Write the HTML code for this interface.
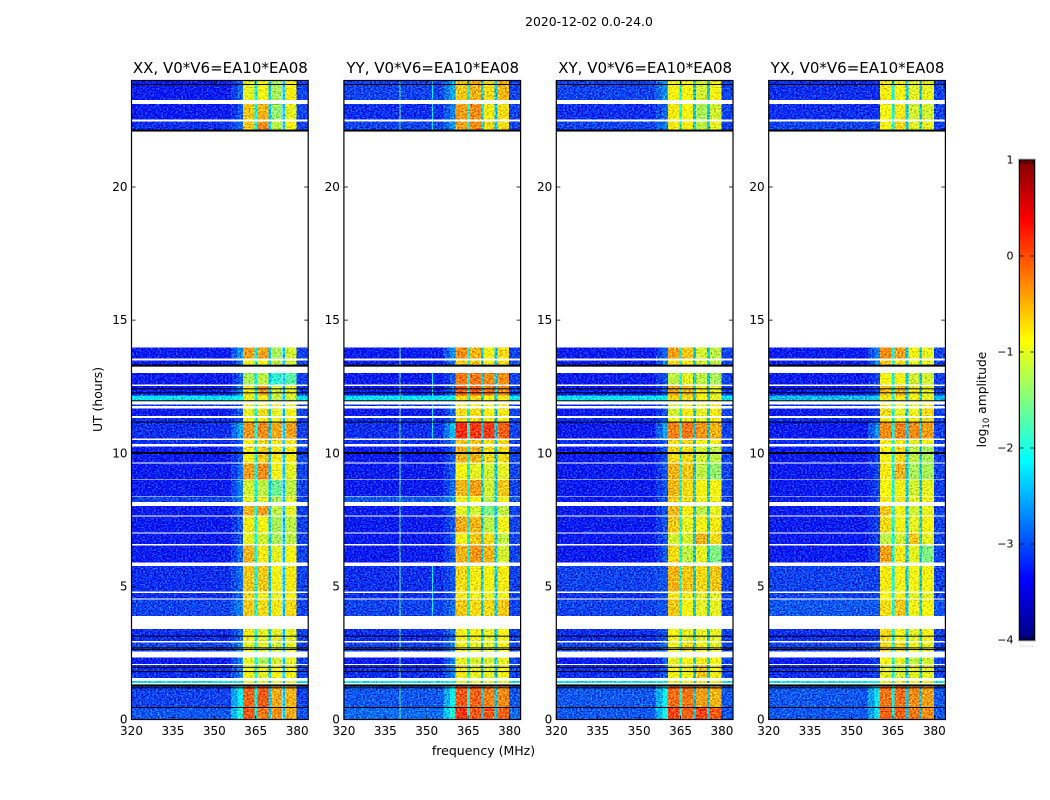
<!DOCTYPE html>
<html lang="en">
<head>
<meta charset="utf-8">
<title>2020-12-02 0.0-24.0</title>
<style>
html,body{margin:0;padding:0;background:#fff;width:1050px;height:800px;overflow:hidden}
svg{display:block}
text{font-family:"DejaVu Sans","Liberation Sans",sans-serif;fill:#000}
</style>
</head>
<body>
<svg id="chart" xmlns="http://www.w3.org/2000/svg" width="1050" height="800" viewBox="0 0 1050 800">
  <defs>
    <filter id="speckle" filterUnits="userSpaceOnUse" x="120" y="70" width="840" height="660" color-interpolation-filters="sRGB">
      <feTurbulence type="fractalNoise" baseFrequency="0.55 0.7" numOctaves="1" seed="4" result="raw"/>
      <feColorMatrix in="raw" type="matrix" values="0.6 0 0 0 0.2  1 0 0 0 0  1 0 0 0 0  0 0 0 0 1" result="grey"/>
      <feComposite in="SourceGraphic" in2="grey" operator="arithmetic" k1="0" k2="1" k3="1.3" k4="-0.65" result="mixed"/>
      <feComposite in="mixed" in2="SourceAlpha" operator="in"/>
    </filter>
    <linearGradient id="cbar-gradient" x1="0" y1="1" x2="0" y2="0"></linearGradient>
  </defs>
  <text x="589" y="26" font-size="12.4" text-anchor="middle">2020-12-02 0.0-24.0</text>
  <text x="0" y="0" font-size="12.4" text-anchor="middle" transform="translate(102 399.5) rotate(-90)">UT (hours)</text>
  <text x="483.5" y="755" font-size="12.5" text-anchor="middle">frequency (MHz)</text>
  <g id="panels"></g>
  <g id="colorbar"></g>
</svg>
<script>
// Panel titles
const panelTitles = ["XX, V0*V6=EA10*EA08", "YY, V0*V6=EA10*EA08", "XY, V0*V6=EA10*EA08", "YX, V0*V6=EA10*EA08"];
// Axis ticks
const freqTicks = [320, 335, 350, 365, 380];
const utTicks = [0, 5, 10, 15, 20];
const cbarTicks = [1, 0, -1, -2, -3, -4];
// Observed time blocks (UT hours)
const rowStart = [23.26,22.53,22.14,13.56,13.32,12.59,12.17,11.99,11.78,11.39,11.17,10.56,10.34,9.65,9.02,8.40,8.17,7.66,7.02,6.59,5.90,4.80,4.54,3.88,2.94,2.56,2.09,1.56,1.38,0.46,0];
const rowEnd   = [24,23.11,22.46,13.98,13.49,13.01,12.53,12.17,11.84,11.69,11.33,11.17,10.50,10.26,9.62,8.99,8.37,8.01,7.62,6.98,6.54,5.76,4.76,4.50,3.40,2.90,2.33,2.05,1.45,1.29,0.44];
// Flagged (black) time lines, UT hours
const thinFlags = [23.85,12.42,12.27,11.97,11.17,3.13,2.69,2.63,1.96,1.80,1.19,0.45];
const thickFlags = [22.12,13.29,10.01,1.28];
// Frequency bands (MHz): background, ramp-in, four passbands, upper edge
const bandEdges = [320,356,358.4,360.4,364.6,365.6,369.6,370.6,374.6,375.6,379.8,384];
const notchLevels = [-2.1,-2.4,-2.4];
const edgeLevel = -3.05;
const backgroundShift = -0.25;
// Log10 amplitude per time block: background, ramp, band A, band B, band C, band D
const xxLevels = [
[-3,-2.6,-1,-.9,-1.3,-.8],[-3,-2.7,-.6,-.5,-1.4,-1],[-2.9,-2.6,-.6,-.3,-1.2,-.9],[-3,-2.4,-.4,-.4,-1.3,-1.1],
[-3,-2.6,-.9,-.9,-1.2,-1.1],[-3,-2.7,-1.3,-1.2,-1.9,-1.7],[-3,-2.5,-.8,-.4,-1.1,-1],[-2,-1.9,-1,-.9,-1.2,-1.1],
[-2.9,-2.7,-1,-.9,-1,-.9],[-3,-2.7,-1,-.7,-1,-.9],[-2.9,-2.7,-.9,-.8,-1,-.9],[-2.9,-2.3,-.35,-.3,-.45,-.4],
[-2.9,-2.7,-.8,-.7,-.8,-.8],[-3,-2.7,-.8,-.6,-.8,-.8],[-3,-2.6,-.4,-.3,-.9,-1],[-3,-2.5,-1.1,-1.2,-1.6,-1.2],
[-2.8,-2.5,-1,-1,-1.3,-1],[-3,-2.7,-.5,-.4,-1.2,-1],[-3,-2.7,-.8,-.9,-1.3,-1.2],[-3,-2.7,-1,-1.1,-1.3,-1.2],
[-3,-2.6,-.5,-.8,-1,-.9],[-2.9,-2.6,-.6,-.6,-.9,-.8],[-2.9,-2.6,-.7,-.8,-1,-.9],[-2.8,-2.5,-.6,-.7,-.8,-.7],
[-2.9,-2.6,-.8,-1,-1,-1],[-2.8,-2.5,-1,-1,-1.1,-1],[-3,-2.5,-1,-1.3,-1.1,-1],[-2.9,-2.5,-.9,-1,-.9,-.9],
[-2,-1.9,-1,-1,-1,-1],[-2.8,-1.9,-.1,-.05,-.45,-.5],[-2.7,-1.7,-.05,-.2,-.35,-.45]];
const yyLevels = [
[-2.8,-2.3,-.6,-.5,-.7,-.5],[-2.9,-2.5,-.4,-.3,-.8,-.7],[-2.8,-2.4,-.4,-.3,-.7,-.7],[-3,-2.4,-.3,-.5,-.9,-.7],
[-3,-2.6,-.6,-.6,-.8,-.7],[-3,-2.7,-.2,-.2,-.3,-.3],[-3,-2.6,-.1,-.1,-.2,-.3],[-2,-1.9,-.7,-.7,-.9,-.8],
[-2.9,-2.6,-.8,-.8,-.9,-.8],[-3,-2.6,-.7,-.7,-.8,-.8],[-2.9,-2.6,-.7,-.7,-.8,-.8],[-2.9,-2.2,.15,.1,.1,-.1],
[-2.9,-2.5,-.6,-.6,-.7,-.7],[-3,-2.7,-.5,-.5,-.7,-.7],[-3,-2.7,-.9,-1,-1.1,-1],[-3,-2.6,-.5,-.4,-1.1,-.6],
[-2.7,-2.4,-.9,-.9,-1.2,-.9],[-3,-2.7,-1,-1.1,-1.5,-1.2],[-3,-2.7,-.45,-.5,-1.2,-.9],[-3,-2.7,-.9,-.6,-.7,-1.2],
[-3,-2.7,-.5,-.35,-.5,-1.1],[-2.9,-2.7,-.7,-.8,-.9,-.8],[-2.9,-2.7,-.8,-.9,-1,-.9],[-2.8,-2.6,-.6,-.7,-.7,-.6],
[-2.9,-2.6,-.9,-.9,-1,-.9],[-2.8,-2.5,-.9,-1,-1,-.9],[-3,-2.5,-1,-1.1,-1.1,-1],[-2.9,-2.5,-.8,-1,-1,-.9],
[-2,-1.9,-1,-1,-1,-1],[-2.7,-1.9,-.05,-.1,-.25,-.3],[-2.6,-1.7,.15,-.05,-.05,-.1]];
const xyLevels = [
[-2.8,-2.4,-.9,-.9,-1.1,-.9],[-2.9,-2.6,-.8,-.9,-1.3,-1.1],[-2.8,-2.5,-.8,-.8,-1.2,-1],[-3,-2.6,-.4,-.6,-1.1,-1.2],
[-3,-2.5,-.7,-.8,-1.1,-1.2],[-3,-2.7,-1.2,-1,-1.2,-1.3],[-3,-2.7,-.45,-.5,-.8,-1],[-2,-1.9,-.7,-.7,-.9,-1],
[-2.9,-2.7,-1.1,-.8,-1,-.8],[-3,-2.7,-1.1,-.8,-1,-.8],[-2.9,-2.7,-1,-.8,-1,-.8],[-3,-2.3,-.25,-.2,-.35,-.5],
[-2.9,-2.7,-.7,-.7,-.9,-.8],[-3,-2.7,-.7,-.7,-1.1,-1.2],[-3,-2.7,-.5,-.6,-1.2,-1.4],[-3,-2.7,-.5,-.7,-.9,-.9],
[-3,-2.7,-.6,-.7,-.9,-.9],[-3,-2.7,-.5,-.8,-1.2,-1],[-3,-2.7,-.6,-1,-.9,-.8],[-3,-2.7,-1.1,-1.1,-.5,-.7],
[-3,-2.7,-.7,-1.2,-1,-1.5],[-2.8,-2.7,-.5,-.6,-.7,-.6],[-2.9,-2.7,-.8,-.8,-1,-1],[-2.8,-2.7,-.6,-.9,-1,-1],
[-2.9,-2.7,-.9,-1,-1,-1],[-2.8,-2.6,-.9,-.7,-.9,-1],[-3,-2.7,-1,-.9,-.8,-.9],[-2.9,-2.7,-.9,-.9,-.6,-.9],
[-2,-1.9,-.8,-.8,-.8,-.8],[-2.7,-1.9,-.15,-.2,-.4,-.5],[-2.7,-1.8,.05,-.1,.05,-.05]];
const yxLevels = [
[-2.9,-2.9,-.8,-.9,-1,-1],[-2.9,-2.9,-.9,-.8,-1.1,-1.1],[-2.8,-2.8,-.9,-.7,-1,-1],[-3,-2.5,-.3,-.4,-.9,-1],
[-3,-2.5,-.6,-.7,-1,-1],[-3,-2.8,-.9,-.9,-1.1,-1.1],[-3,-2.8,-.6,-.5,-.8,-1],[-2.2,-2.1,-.8,-.8,-.9,-1],
[-2.9,-2.8,-.8,-1,-1,-.8],[-3,-2.8,-.7,-1,-.9,-.7],[-2.9,-2.8,-.8,-.9,-.9,-.7],[-3,-2.4,-.3,-.25,-.3,-.4],
[-2.9,-2.8,-.8,-.8,-1,-.9],[-3,-2.8,-.9,-.7,-1.2,-1.3],[-3,-2.8,-.8,-.5,-1.3,-1.3],[-3,-2.8,-.9,-.9,-1.1,-1],
[-3,-2.8,-.8,-.8,-1,-.9],[-3,-2.8,-.6,-.9,-1.1,-1],[-3,-2.8,-.7,-.9,-1,-.9],[-3,-2.8,-1.2,-1.1,-.6,-1],
[-3,-2.8,-.4,-.8,-1,-1.5],[-2.8,-2.8,-.8,-.9,-.9,-.9],[-2.8,-2.8,-.9,-.9,-1,-1],[-2.7,-2.7,-.7,-.6,-.9,-.9],
[-2.9,-2.8,-.7,-.9,-1,-.9],[-2.8,-2.7,-.7,-.7,-.9,-1],[-3,-2.8,-.9,-1,-1.2,-1.1],[-2.9,-2.8,-1,-1.1,-1,-1],
[-2,-1.9,-.8,-.8,-.8,-.8],[-2.7,-2,-.2,-.15,-.3,-.4],[-2.7,-2,-.1,-.1,-.2,-.3]];
// Narrow interference channels in YY: frequency (MHz), from UT, to UT, level
const yyRfiFreq = [340.1, 351.9, 351.9, 351.9];
const yyRfiFrom = [0, 22.14, 10.56, 3.88];
const yyRfiTo = [24, 24, 13.01, 5.76];
const yyRfiLevel = [-1.7, -2.2, -2.2, -2.2];

const NS = "http://www.w3.org/2000/svg";
const panelLevels = [xxLevels, yyLevels, xyLevels, yxLevels];
const panelKeys = ["xx", "yy", "xy", "yx"];
const plotW = 176.7;
const plotTop = 80.5;
const plotBottom = 719.5;
const panelLeft = i => 131.5 + i * 212.4;
const xScale = (i, f) => panelLeft(i) + (f - 320) / 64 * plotW;
const yScale = t => plotBottom - t / 24 * (plotBottom - plotTop);
const cbarLeft = 1019.5, cbarRight = 1034.5, cbarTop = 160, cbarBottom = 640;
const cbarScale = v => cbarBottom - (v + 4) / 5 * (cbarBottom - cbarTop);

function clip01(v) { return Math.max(0, Math.min(1, v)); }
function jet(v) {
  const t = clip01((v + 4) / 5);
  const r = clip01(1.5 - Math.abs(4 * t - 3));
  const g = clip01(1.5 - Math.abs(4 * t - 2));
  const b = clip01(1.5 - Math.abs(4 * t - 1));
  return "rgb(" + Math.round(r * 255) + "," + Math.round(g * 255) + "," + Math.round(b * 255) + ")";
}
function svgEl(tag, parent) {
  const el = document.createElementNS(NS, tag);
  parent.appendChild(el);
  return el;
}
function setAttrs(el, props) {
  for (const k in props) el.setAttribute(k, props[k]);
}
// Level of each frequency band in a row
function bandLevels(row) {
  const bg = row[0] + backgroundShift;
  const rampLevel = row[1] + backgroundShift;
  return [bg, (bg + rampLevel) / 2, rampLevel, row[2], notchLevels[0], row[3], notchLevels[1], row[4], notchLevels[2], row[5], Math.max(bg, edgeLevel)];
}

const panelsRoot = document.getElementById("panels");
panelLevels.forEach((levels, p) => {
  const key = panelKeys[p];
  const g = svgEl("g", panelsRoot);
  
  

  const cells = svgEl("g", g);
  
  
  cells.setAttribute("filter", "url(#speckle)");
  cells.setAttribute("shape-rendering", "crispEdges");

  levels.forEach((row, r) => {
    const vals = bandLevels(row);
    const y0 = yScale(rowEnd[r]);
    const y1 = yScale(rowStart[r]);
    vals.forEach((v, b) => {
      const x0 = xScale(p, bandEdges[b]);
      const x1 = xScale(p, bandEdges[b + 1]);
      const cell = svgEl("rect", cells);
      
      
      setAttrs(cell, { x: x0.toFixed(2), y: y0.toFixed(2), width: (x1 - x0).toFixed(2), height: (y1 - y0).toFixed(2), fill: jet(v) });
    });
    if (key === "yy") {
      yyRfiFreq.forEach((f, k) => {
        if (rowStart[r] >= yyRfiFrom[k] && rowEnd[r] <= yyRfiTo[k]) {
          const line = svgEl("rect", cells);
          
          
          setAttrs(line, { x: xScale(p, f).toFixed(2), y: y0.toFixed(2), width: 1, height: (y1 - y0).toFixed(2), fill: jet(yyRfiLevel[k]) });
        }
      });
    }
  });

  thinFlags.forEach(t => {
    const line = svgEl("rect", g);
    
    
    setAttrs(line, { x: panelLeft(p), y: (yScale(t) - 0.5).toFixed(2), width: plotW, height: 1, fill: "#000" });
  });
  thickFlags.forEach(t => {
    const line = svgEl("rect", g);
    
    
    setAttrs(line, { x: panelLeft(p), y: (yScale(t) - 1).toFixed(2), width: plotW, height: 2, fill: "#000" });
  });

  const frame = svgEl("rect", g);
  
  
  setAttrs(frame, { x: panelLeft(p), y: plotTop, width: plotW, height: plotBottom - plotTop, fill: "none", stroke: "#000", "stroke-width": 1.2 });

  freqTicks.forEach(f => {
    const x = xScale(p, f);
    [[plotBottom, plotBottom - 4], [plotTop, plotTop + 4]].forEach(pair => {
      const tick = svgEl("line", g);
      
      
      setAttrs(tick, { x1: x, x2: x, y1: pair[0], y2: pair[1], stroke: "#000", "stroke-width": 0.8 });
    });
    const label = svgEl("text", g);
    
    
    setAttrs(label, { x: x, y: 735, "font-size": 12, "text-anchor": "middle" });
    label.textContent = String(f);
  });
  utTicks.forEach(t => {
    const y = yScale(t);
    [[panelLeft(p), panelLeft(p) + 4], [panelLeft(p) + plotW, panelLeft(p) + plotW - 4]].forEach(pair => {
      const tick = svgEl("line", g);
      
      
      setAttrs(tick, { x1: pair[0], x2: pair[1], y1: y, y2: y, stroke: "#000", "stroke-width": 0.8 });
    });
    const label = svgEl("text", g);
    
    
    setAttrs(label, { x: panelLeft(p) - 4, y: y + 4, "font-size": 12, "text-anchor": "end" });
    label.textContent = String(t);
  });

  const title = svgEl("text", g);
  
  
  setAttrs(title, { x: panelLeft(p) + plotW / 2 + 0.5, y: 73, "font-size": 15, "text-anchor": "middle" });
  title.textContent = panelTitles[p];
});

// Colour bar
const grad = document.getElementById("cbar-gradient");
for (let i = 0; i <= 40; i++) {
  const stop = svgEl("stop", grad);
  stop.setAttribute("offset", i / 40);
  stop.setAttribute("stop-color", jet(-4 + i / 8));
}
const cbar = document.getElementById("colorbar");
const ramp = svgEl("rect", cbar);


setAttrs(ramp, { x: cbarLeft, y: cbarTop, width: cbarRight - cbarLeft, height: cbarBottom - cbarTop, fill: "url(#cbar-gradient)", stroke: "#000", "stroke-width": 1 });
const halo = svgEl("rect", cbar);


setAttrs(halo, { x: cbarLeft - 1, y: cbarTop - 1, width: cbarRight - cbarLeft + 2, height: cbarBottom - cbarTop + 2, fill: "none", stroke: "#bbb", "stroke-width": 1 });
cbarTicks.forEach(v => {
  const y = cbarScale(v);
  [[cbarLeft, cbarLeft + 4], [cbarRight, cbarRight - 4]].forEach(pair => {
    const tick = svgEl("line", cbar);
    
    
    setAttrs(tick, { x1: pair[0], x2: pair[1], y1: y, y2: y, stroke: "#000", "stroke-width": 0.8 });
  });
  const label = svgEl("text", cbar);
  
  
  setAttrs(label, { x: 1013.5, y: y + 3.5, "font-size": 11, "text-anchor": "end" });
  label.textContent = String(v).replace("-", "\u2212");
});
// Small edge ticks and dots at the ends of the colour bar
for (let i = 0; i < 5; i++) {
  const x = cbarLeft + 1.5 + i * 3;
  [[cbarTop, cbarTop + 4], [cbarBottom, cbarBottom - 4]].forEach(pair => {
    const tick = svgEl("line", cbar);
    
    
    setAttrs(tick, { x1: x, x2: x, y1: pair[0], y2: pair[1], stroke: "#000", "stroke-width": 0.7 });
  });
  const dot = svgEl("rect", cbar);
  
  
  setAttrs(dot, { x: x - 0.5, y: 645.5, width: 1, height: 1, fill: "#aaa" });
}
const cbLabel = svgEl("text", cbar);


setAttrs(cbLabel, { x: 0, y: 0, "font-size": 12.3, "text-anchor": "middle", transform: "translate(986 399.5) rotate(-90)" });
const cb1 = svgEl("tspan", cbLabel);
cb1.textContent = "log";
const cb2 = svgEl("tspan", cbLabel);
setAttrs(cb2, { "font-size": 8.5, dy: 3 });
cb2.textContent = "10";
const cb3 = svgEl("tspan", cbLabel);
setAttrs(cb3, { dy: -3 });
cb3.textContent = " amplitude";
</script>
</body>
</html>
